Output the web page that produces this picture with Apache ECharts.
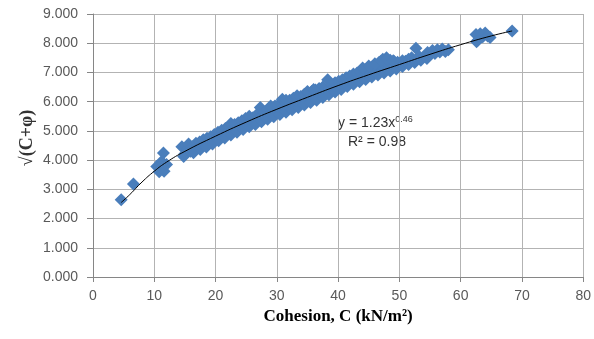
<!DOCTYPE html>
<html>
<head>
<meta charset="utf-8">
<script src="https://cdn.jsdelivr.net/npm/echarts@6/dist/echarts.min.js"></script>
<style>html,body{margin:0;padding:0;background:#fff}#c{width:594px;height:339px}</style>
</head>
<body>
<div id="c"></div>
<script>
// Observed data: cohesion C (kN/m²) vs sqrt(C+phi)
const cohesion = [
  4.6, 6.6, 10.4, 10.8, 11.2, 11.5, 11.6, 12.0, 14.5, 14.8,
  15.0, 15.3, 15.6, 15.9, 16.2, 16.5, 16.8, 17.1, 17.4, 17.7,
  18.0, 18.3, 18.6, 18.9, 19.2, 19.5, 19.8, 20.1, 20.4, 20.7,
  21.0, 21.3, 21.6, 21.9, 22.2, 22.5, 22.8, 23.1, 23.4, 23.7,
  24.0, 24.3, 24.6, 24.9, 25.2, 25.5, 25.8, 26.1, 26.4, 26.7,
  27.0, 27.3, 27.6, 27.9, 28.2, 28.5, 28.8, 29.1, 29.4, 29.7,
  30.0, 30.3, 30.6, 30.9, 31.2, 31.5, 31.8, 32.1, 32.4, 32.7,
  33.0, 33.3, 33.6, 33.9, 34.2, 34.5, 34.8, 35.1, 35.4, 35.7,
  36.0, 36.3, 36.6, 36.9, 37.2, 37.5, 37.8, 38.3, 38.6, 38.9,
  39.2, 39.5, 39.8, 40.1, 40.4, 40.7, 41.0, 41.3, 41.6, 41.9,
  42.2, 42.5, 42.8, 43.1, 43.4, 43.7, 44.0, 44.3, 44.6, 44.9,
  45.2, 45.5, 45.8, 46.1, 46.4, 46.7, 47.0, 47.3, 47.6, 47.9,
  48.2, 48.5, 48.8, 49.1, 49.4, 49.7, 50.0, 50.5, 51.0, 51.5,
  52.0, 52.7, 53.2, 54.2, 54.6, 55.0, 55.4, 55.8, 56.2, 56.6,
  57.0, 57.5, 58.0, 62.5, 62.8, 63.2, 63.6, 64.0, 64.4, 64.8,
  62.6, 68.4,
  16.4, 17.5, 18.5, 19.5, 20.5, 21.5, 22.5, 23.5, 24.5, 25.5,
  26.5, 27.5, 28.5, 29.5, 30.5, 31.5, 32.5, 33.5, 34.5, 35.5,
  36.5, 37.5, 38.5, 39.5, 40.5, 41.5, 42.5, 43.5, 44.5, 45.5,
  46.5, 47.5, 48.5, 49.5, 50.5, 51.5, 52.5, 53.5, 54.5,
  44.0, 45.0, 46.0, 47.0, 48.0, 49.0, 35.0, 36.0, 29.0, 31.5
];
const rootCPhi = [
  2.64, 3.18, 3.78, 3.60, 3.95, 4.24, 3.62, 3.85, 4.46, 4.12,
  4.22, 4.38, 4.55, 4.30, 4.46, 4.35, 4.58, 4.45, 4.62, 4.50,
  4.70, 4.55, 4.75, 4.62, 4.80, 4.68, 4.88, 4.75, 4.95, 4.82,
  5.02, 4.88, 5.08, 4.95, 5.15, 5.25, 5.05, 5.22, 5.08, 5.28,
  5.15, 5.35, 5.20, 5.42, 5.25, 5.50, 5.32, 5.45, 5.38, 5.55,
  5.42, 5.80, 5.50, 5.65, 5.55, 5.72, 5.60, 5.78, 5.64, 5.85,
  5.70, 5.90, 5.75, 6.08, 5.82, 6.00, 5.86, 6.05, 5.92, 6.12,
  5.98, 6.20, 6.02, 6.18, 6.08, 6.25, 6.12, 6.30, 6.18, 6.35,
  6.22, 6.40, 6.28, 6.45, 6.32, 6.50, 6.38, 6.75, 6.45, 6.58,
  6.48, 6.65, 6.52, 6.70, 6.58, 6.75, 6.62, 6.82, 6.68, 6.88,
  6.72, 6.95, 6.78, 6.98, 6.85, 7.02, 6.90, 7.08, 6.95, 7.12,
  7.00, 7.18, 7.05, 7.25, 7.10, 7.35, 7.15, 7.45, 7.22, 7.50,
  7.28, 7.42, 7.30, 7.38, 7.25, 7.35, 7.30, 7.40, 7.38, 7.45,
  7.50, 7.83, 7.55, 7.55, 7.68, 7.62, 7.75, 7.65, 7.78, 7.70,
  7.80, 7.72, 7.78, 8.30, 8.10, 8.32, 8.22, 8.35, 8.25, 8.20,
  8.05, 8.42,
  4.25, 4.36, 4.45, 4.55, 4.66, 4.76, 4.86, 4.95, 5.05, 5.14,
  5.22, 5.31, 5.40, 5.48, 5.56, 5.64, 5.72, 5.80, 5.89, 5.97,
  6.05, 6.14, 6.24, 6.33, 6.42, 6.52, 6.60, 6.68, 6.76, 6.84,
  6.91, 6.98, 7.05, 7.12, 7.20, 7.27, 7.34, 7.42, 7.48,
  7.15, 7.22, 7.30, 7.38, 7.45, 7.40, 6.35, 6.42, 5.85, 6.05
];
// Power trend line
const trendX = [4.6, 6, 8, 10, 12, 15, 20, 25, 30, 35, 40, 45, 50, 55, 60, 65, 68.4];
const trendY = [2.55, 2.82, 3.25, 3.62, 3.93, 4.30, 4.82, 5.30, 5.74, 6.15, 6.55, 6.92, 7.27, 7.62, 7.95, 8.25, 8.42];
const xTicks = [0, 10, 20, 30, 40, 50, 60, 70, 80];
const yTicks = [0, 1, 2, 3, 4, 5, 6, 7, 8, 9];

const chart = echarts.init(document.getElementById('c'), null, {renderer: 'canvas'});
const gridColor = '#b3b3b3';
const labelFont = {color: '#595959', fontSize: 14, fontFamily: 'Liberation Sans'};
chart.setOption({
  animation: false,
  grid: {left: 93, right: 10, top: 14, bottom: 62},
  xAxis: {
    type: 'value', min: xTicks[0], max: xTicks[xTicks.length - 1], interval: 10,
    name: 'Cohesion, C (kN/m²)', nameLocation: 'middle', nameGap: 27,
    nameTextStyle: {fontFamily: 'Liberation Serif', fontWeight: 'bold', fontSize: 17, color: '#000'},
    axisLine: {lineStyle: {color: '#868686'}},
    axisTick: {show: true, length: 5, lineStyle: {color: '#868686'}},
    axisLabel: Object.assign({margin: 12}, labelFont),
    splitLine: {show: true, lineStyle: {color: gridColor}}
  },
  yAxis: {
    type: 'value', min: yTicks[0], max: yTicks[yTicks.length - 1], interval: 1,
    axisLine: {show: true, lineStyle: {color: '#868686'}},
    axisTick: {show: true, length: 6, lineStyle: {color: '#868686'}},
    axisLabel: Object.assign({margin: 15, formatter: v => v.toFixed(3)}, labelFont),
    splitLine: {show: true, lineStyle: {color: gridColor}}
  },
  graphic: [
    {type: 'text', x: 27, y: 138, rotation: Math.PI / 2, style: {
      text: '√(C+φ)', font: 'bold 18px Liberation Serif', fill: '#333',
      align: 'center', verticalAlign: 'middle'
    }},
    {type: 'text', left: 338, top: 115, style: {
      text: '{a|y = 1.23x}{s|0.46}',
      rich: {a: {fontSize: 14, fontFamily: 'Liberation Sans', fill: '#333'},
             s: {fontSize: 9, fontFamily: 'Liberation Sans', fill: '#333', verticalAlign: 'top', padding: [0,0,8,0]}}
    }},
    {type: 'text', left: 348, top: 135, style: {
      text: 'R² = 0.98', font: '14px Liberation Sans', fill: '#333'
    }}
  ],
  series: [
    {
      type: 'scatter', symbol: 'diamond', symbolSize: 13,
      itemStyle: {color: '#4A7EBB', opacity: 1},
      data: cohesion.map((c, i) => [c, rootCPhi[i]]), z: 2
    },
    {
      type: 'line', smooth: true, symbol: 'none',
      lineStyle: {color: '#000', width: 1},
      data: trendX.map((x, i) => [x, trendY[i]]), z: 3
    }
  ]
});
</script>
</body>
</html>
